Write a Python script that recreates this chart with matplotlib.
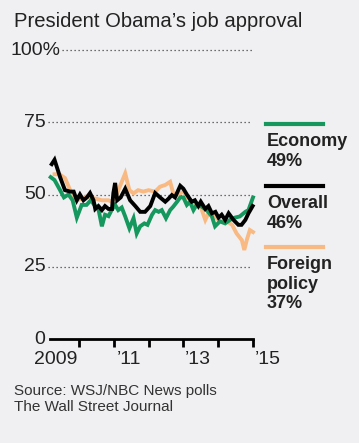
import matplotlib.pyplot as plt

# data (decimal year, approval %)
overall_x = [2009.22, 2009.30, 2009.46, 2009.60, 2009.75, 2009.85, 2009.94, 2010.03, 2010.13, 2010.23,
             2010.32, 2010.42, 2010.47, 2010.56, 2010.66, 2010.75, 2010.85, 2010.95, 2010.99, 2011.04,
             2011.10, 2011.20, 2011.33, 2011.47, 2011.62, 2011.76, 2011.90, 2012.05, 2012.19, 2012.33,
             2012.48, 2012.57, 2012.67, 2012.76, 2012.91, 2013.00, 2013.10, 2013.24, 2013.33, 2013.43,
             2013.50, 2013.63, 2013.72, 2013.82, 2013.92, 2014.01, 2014.10, 2014.20, 2014.30, 2014.44,
             2014.58, 2014.67, 2014.78, 2014.87, 2014.99]
overall_y = [60.5, 62, 56, 51.5, 51, 51, 48, 50, 48, 49,
             50.5, 48, 45, 46, 44.6, 46, 45, 45, 50.5, 54,
             48, 49, 52, 48, 46, 44, 44, 46, 50.5, 49,
             47.5, 48.5, 49.8, 49, 53, 52, 50, 47.5, 48, 46,
             47.5, 45, 46, 43.5, 44, 42, 43, 41.2, 43.5, 41.2,
             39.5, 39.5, 41.2, 43.5, 46]

econ_x = [2009.19, 2009.30, 2009.46, 2009.57, 2009.70, 2009.82, 2009.94, 2010.08, 2010.22, 2010.34,
          2010.47, 2010.56, 2010.66, 2010.75, 2010.85, 2010.94, 2011.04, 2011.13, 2011.23, 2011.33,
          2011.45, 2011.57, 2011.66, 2011.76, 2011.88, 2011.97, 2012.10, 2012.19, 2012.29, 2012.38,
          2012.50, 2012.62, 2012.71, 2012.82, 2012.91, 2013.00, 2013.10, 2013.19, 2013.29, 2013.38,
          2013.50, 2013.67, 2013.82, 2013.91, 2014.05, 2014.20, 2014.34, 2014.48, 2014.62, 2014.78,
          2014.87, 2015.00]
econ_y = [56, 55, 51.5, 49, 50, 48, 42, 46.4, 46.4, 48,
          46, 45, 39, 43, 42.5, 44.6, 46.4, 44.6, 45.5, 42.4,
          38.3, 41.8, 36.5, 39, 40, 39.5, 43, 44.6, 44, 44.6,
          41.8, 44.6, 45.8, 47.5, 49, 49, 46.4, 47.5, 44.6, 46.4,
          46, 44.6, 42.4, 39, 40.7, 40, 41.2, 42, 42.4, 44,
          44.6, 49]

foreign_x = [2009.30, 2009.44, 2009.60, 2009.75, 2009.94, 2010.08, 2010.22, 2010.47, 2010.66, 2010.85,
             2010.94, 2011.10, 2011.33, 2011.45, 2011.57, 2011.70, 2011.85, 2012.00, 2012.19, 2012.33,
             2012.48, 2012.62, 2012.71, 2012.82, 2013.00, 2013.14, 2013.29, 2013.48, 2013.63, 2013.72,
             2013.86, 2014.05, 2014.25, 2014.40, 2014.53, 2014.68, 2014.75, 2014.82, 2014.91, 2015.00]
foreign_y = [57, 57, 55.7, 51.5, 48, 48.6, 49.3, 48.6, 48, 48,
             47.5, 50.5, 57.3, 51.5, 50.4, 51.5, 51, 51.5, 51, 52.7,
             53.3, 54.4, 50.4, 49.8, 51, 48.6, 47, 46.4, 41.2, 43.5,
             43, 40.7, 40.7, 39.5, 36.5, 34.2, 30.8, 34.2, 37.7, 37]

legend_names = ["Economy\n49%", "Overall\n46%", "Foreign\npolicy\n37%"]
y_ticks = [25, 50, 75]
x_labels = ["2009", "\u201911", "\u201913", "\u201915"]
x_label_pos = [2009.946, 2011.09, 2013.05, 2015.06]

green = "#15975e"
orange = "#f9b982"
bg = "#f0f0f2"

plt.rcParams['font.family'] = ['Liberation Sans', 'DejaVu Sans']

W, H = 359, 443
fig = plt.figure(figsize=(W / 100, H / 100), dpi=100, facecolor=bg)
ax = fig.add_axes([50 / W, (H - 339) / H, 203 / W, 289 / H])
ax.set_facecolor(bg)
ax.set_xlim(2009.17, 2015.0)
ax.set_ylim(0, 100)

for s in ['top', 'right', 'left']:
    ax.spines[s].set_visible(False)
ax.spines['bottom'].set_linewidth(2)
ax.set_yticks([])
ax.set_xticks([2010, 2011, 2012, 2013, 2014, 2015])
ax.set_xticklabels([])
ax.tick_params(axis='x', direction='out', length=6, width=2, color='black')

# dotted gridlines and labels
for v in y_ticks:
    ax.axhline(v, xmin=-0.01, xmax=0.995, color='#444444', lw=0.9, ls=(0, (1, 2.2)), clip_on=False)
    ax.text(-0.02, v, str(v), transform=ax.get_yaxis_transform(), ha='right', va='center',
            fontsize=14, color='#222222')
ax.axhline(100, xmin=0.06, xmax=0.995, color='#444444', lw=0.9, ls=(0, (1, 2.2)), clip_on=False)
ax.text(0.052, 100, "100%", transform=ax.get_yaxis_transform(), ha='right', va='center',
        fontsize=14, color='#222222')
ax.text(-0.025, 0, "0", transform=ax.get_yaxis_transform(), ha='right', va='center',
        fontsize=14, color='#222222')

for lab, pos in zip(x_labels, x_label_pos):
    ax.text(pos, -0.042, lab, transform=ax.get_xaxis_transform(),
            ha='right' if lab == "2009" else 'left', va='top', fontsize=14, color='#222222')

ax.plot(foreign_x, foreign_y, color=orange, lw=2.8, clip_on=False, solid_joinstyle='miter')
ax.plot(econ_x, econ_y, color=green, lw=2.8, clip_on=False, solid_joinstyle='miter')
ax.plot(overall_x, overall_y, color='black', lw=2.8, clip_on=False, solid_joinstyle='miter')

# legend on the right
def px(x, y):
    return x / W, 1 - y / H

for name, col, ybar in zip(legend_names, [green, 'black', orange], [124, 186, 247]):
    x0, y0 = px(266, ybar)
    x1, _ = px(323, ybar)
    fig.add_artist(plt.Line2D([x0, x1], [y0, y0], color=col, lw=3, transform=fig.transFigure))
    tx, ty = px(267, ybar + 9)
    fig.text(tx, ty, name, ha='left', va='top', fontsize=13, fontweight='bold',
             color='#222222', linespacing=1.2)

tx, ty = px(14, 12)
fig.text(tx, ty, "President Obama\u2019s job approval", ha='left', va='top', fontsize=14.6, color='#222222')
tx, ty = px(14, 384)
fig.text(tx, ty, "Source: WSJ/NBC News polls\nThe Wall Street Journal", ha='left', va='top',
         fontsize=11, color='#333333', linespacing=1.2)

fig.savefig("out.png", dpi=100, facecolor=bg)
